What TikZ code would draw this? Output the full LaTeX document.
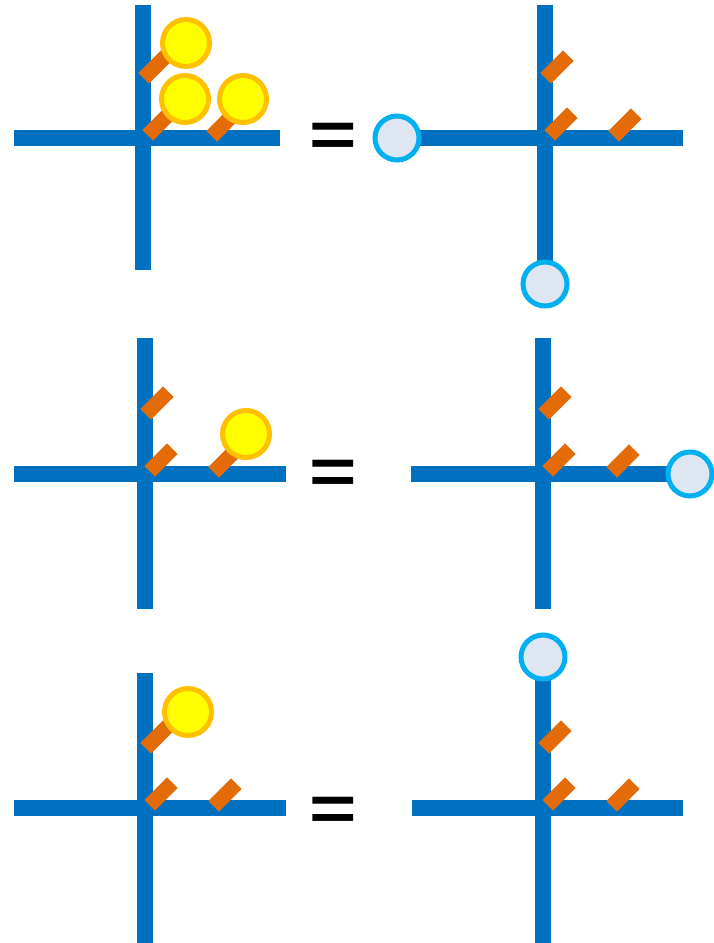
\documentclass[tikz,border=0pt]{standalone}
\usepackage{fontspec}
\newfontfamily\eqfont{Liberation Sans}[FakeStretch=1.27]
\usetikzlibrary{positioning, backgrounds}
\definecolor{wireblue}{HTML}{0070C0}
\definecolor{gateorange}{HTML}{E36C09}
\definecolor{tokenyellow}{HTML}{FFFF00}
\definecolor{tokenrim}{HTML}{FFC000}
\definecolor{portfill}{HTML}{DEE6F2}
\definecolor{portrim}{HTML}{00B0F0}
\tikzset{
    wire/.style={line width=16pt, draw=wireblue},
    gate/.style={rectangle, rotate=45, minimum width=32pt, minimum height=15pt, inner sep=0pt, fill=gateorange},
    token/.style={circle, minimum size=47pt, inner sep=0pt, line width=5pt, draw=tokenrim, fill=tokenyellow},
    port/.style={circle, minimum size=44pt, inner sep=0pt, line width=5pt, draw=portrim, fill=portfill},
    equal/.style={inner sep=0pt, anchor=north, font=\eqfont\bfseries\fontsize{64}{64}\selectfont}
}

\begin{document}
\begin{tikzpicture}[x=1pt, y=-1pt]
    \useasboundingbox (0,0) rectangle (714,943);

    % first row
    \coordinate (c1l) at (143,138);
    \coordinate (c1l-w) at (14,138);
    \coordinate (c1l-e) at (280,138);
    \coordinate (c1l-n) at (143,5);
    \coordinate (c1l-s) at (143,270);
    \node (g1l-top) [gate] at ([shift={(12,-71)}]c1l) {};
    \node (g1l-mid) [gate] at ([shift={(16,-14)}]c1l) {};
    \node (g1l-right) [gate] at ([shift={(80,-13)}]c1l) {};
    \node (t1l-top) [token] at ([shift={(43,-95)}]c1l) {};
    \node (t1l-mid) [token] at ([shift={(42,-39)}]c1l) {};
    \node (t1l-right) [token] at ([shift={(100,-39)}]c1l) {};

    \node (eq1) [equal] at (333.5,123) {=};

    \coordinate (c1r) at (545,138);
    \coordinate (c1r-e) at (683,138);
    \coordinate (c1r-n) at (545,5);
    \node (g1r-top) [gate] at ([shift={(12,-71)}]c1r) {};
    \node (g1r-mid) [gate] at ([shift={(16,-14)}]c1r) {};
    \node (g1r-right) [gate] at ([shift={(80,-13)}]c1r) {};
    \node (p1r-west) [port] at (397,138) {};
    \node (p1r-south) [port] at (545,284) {};

    % second row
    \coordinate (c2l) at (145,474);
    \coordinate (c2l-w) at (14,474);
    \coordinate (c2l-e) at (286,474);
    \coordinate (c2l-n) at (145,338);
    \coordinate (c2l-s) at (145,609);
    \node (g2l-top) [gate] at ([shift={(12,-71)}]c2l) {};
    \node (g2l-mid) [gate] at ([shift={(16,-14)}]c2l) {};
    \node (g2l-right) [gate] at ([shift={(80,-13)}]c2l) {};
    \node (t2l-right) [token] at ([shift={(101,-40)}]c2l) {};

    \node (eq2) [equal] at (333.5,460) {=};

    \coordinate (c2r) at (543,474);
    \coordinate (c2r-w) at (411,474);
    \coordinate (c2r-n) at (543,338);
    \coordinate (c2r-s) at (543,609);
    \node (g2r-top) [gate] at ([shift={(12,-71)}]c2r) {};
    \node (g2r-mid) [gate] at ([shift={(16,-14)}]c2r) {};
    \node (g2r-right) [gate] at ([shift={(80,-13)}]c2r) {};
    \node (p2r-east) [port] at (690,474) {};

    % third row
    \coordinate (c3l) at (145,808);
    \coordinate (c3l-w) at (14,808);
    \coordinate (c3l-e) at (286,808);
    \coordinate (c3l-n) at (145,673);
    \coordinate (c3l-s) at (145,943);
    \node (g3l-top) [gate] at ([shift={(12,-71)}]c3l) {};
    \node (g3l-mid) [gate] at ([shift={(16,-14)}]c3l) {};
    \node (g3l-right) [gate] at ([shift={(80,-13)}]c3l) {};
    \node (t3l-top) [token] at ([shift={(43,-96)}]c3l) {};

    \node (eq3) [equal] at (333.5,797) {=};

    \coordinate (c3r) at (543,808);
    \coordinate (c3r-w) at (412,808);
    \coordinate (c3r-e) at (683,808);
    \coordinate (c3r-s) at (543,943);
    \node (g3r-top) [gate] at ([shift={(12,-71)}]c3r) {};
    \node (g3r-mid) [gate] at ([shift={(16,-14)}]c3r) {};
    \node (g3r-right) [gate] at ([shift={(80,-13)}]c3r) {};
    \node (p3r-north) [port] at (543,657) {};

    % wires go under everything else
    \begin{scope}[on background layer]
        \draw [wire] (c1l-w) -- (c1l-e) (c1l-n) -- (c1l-s);
        \draw [wire] (p1r-west.center) -- (c1r-e) (c1r-n) -- (p1r-south.center);
        \draw [wire] (c2l-w) -- (c2l-e) (c2l-n) -- (c2l-s);
        \draw [wire] (c2r-w) -- (p2r-east.center) (c2r-n) -- (c2r-s);
        \draw [wire] (c3l-w) -- (c3l-e) (c3l-n) -- (c3l-s);
        \draw [wire] (c3r-w) -- (c3r-e) (p3r-north.center) -- (c3r-s);
    \end{scope}
\end{tikzpicture}
\end{document}
